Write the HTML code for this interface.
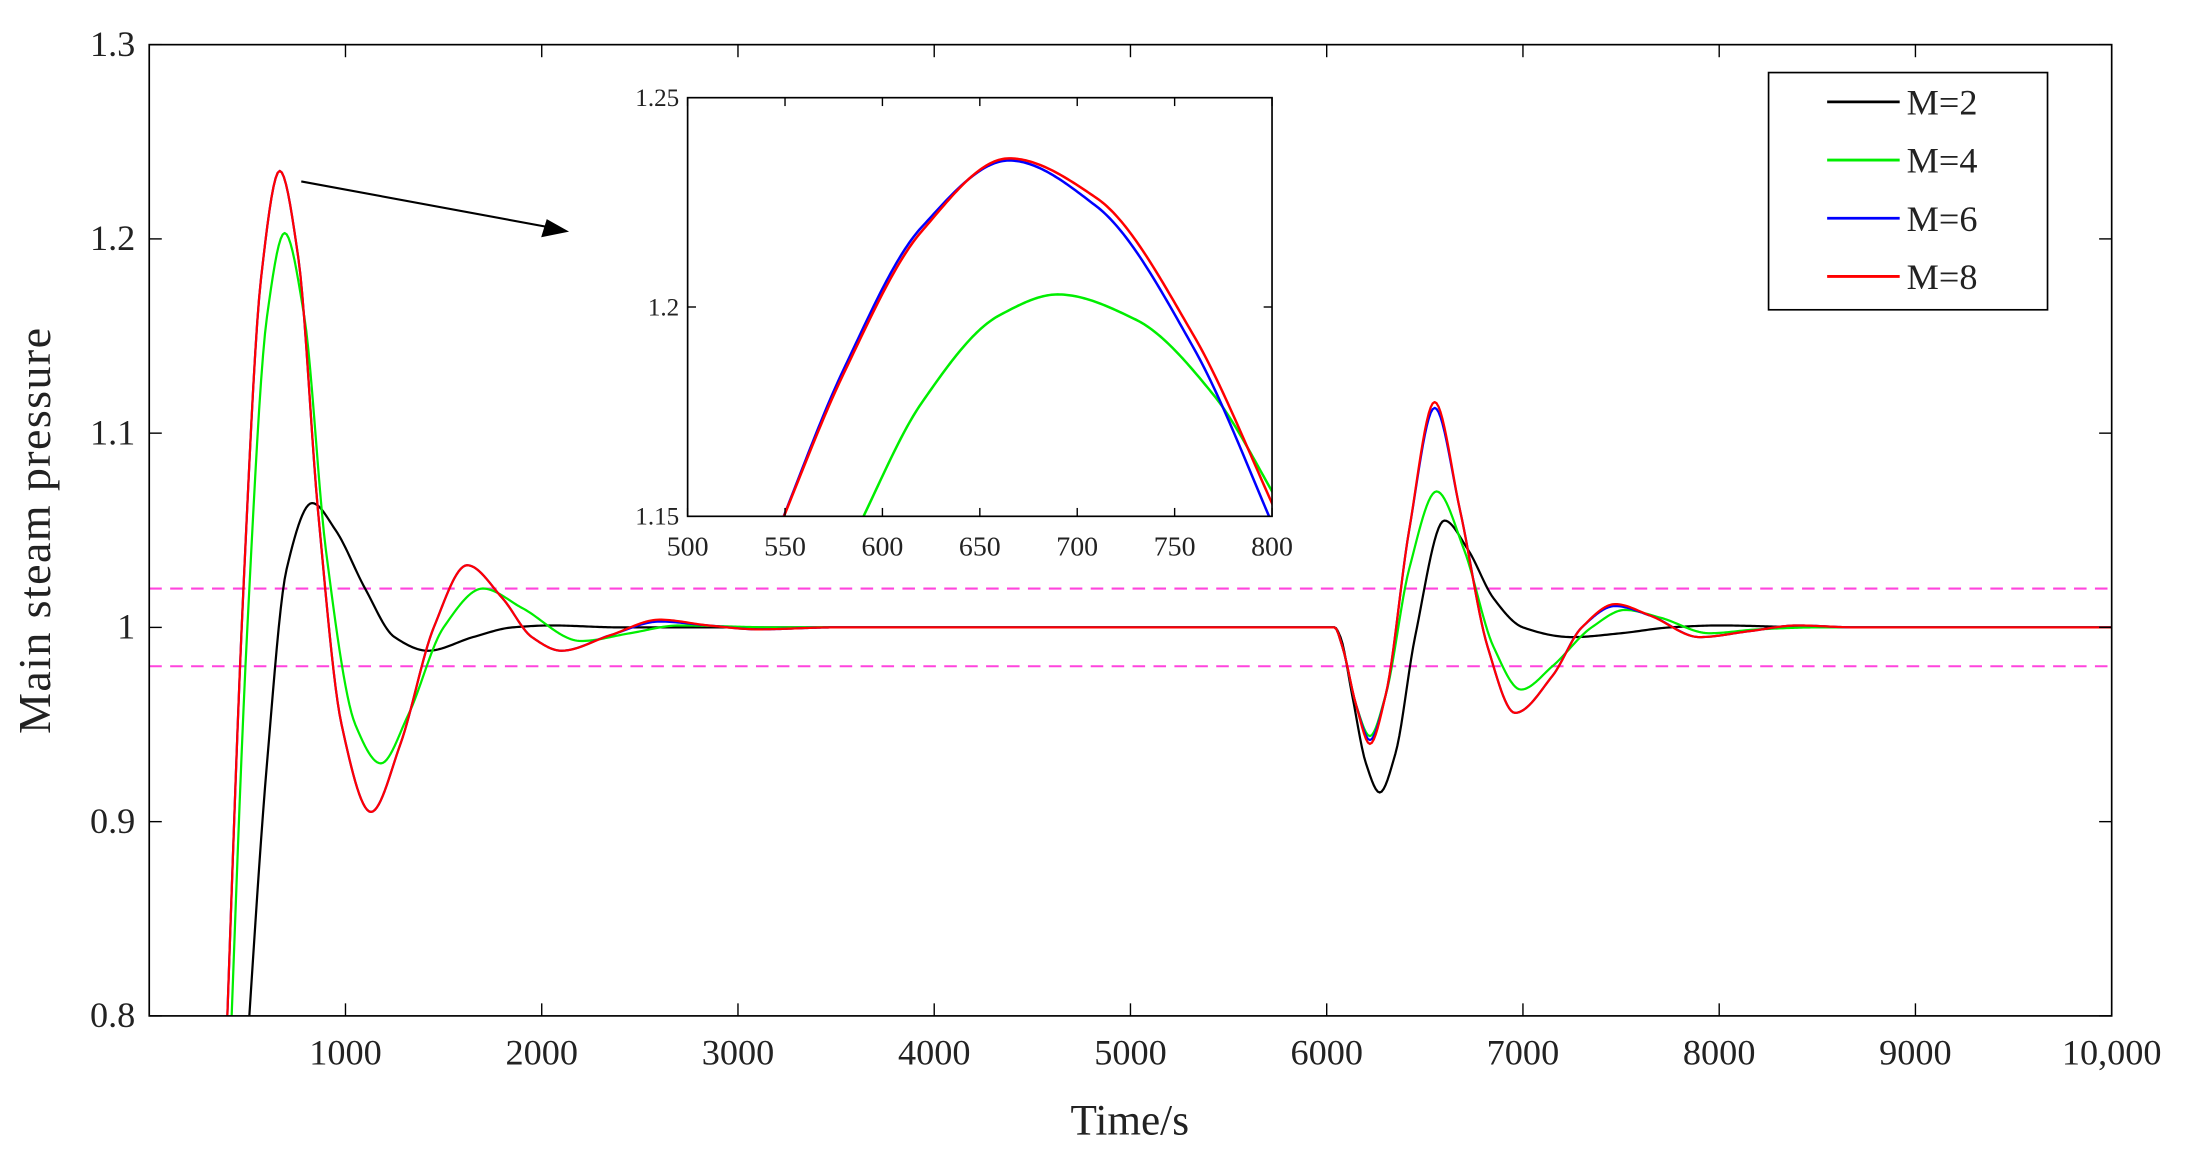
<!DOCTYPE html>
<html><head><meta charset="utf-8"><style>
html,body{margin:0;padding:0;background:#fff;overflow:hidden;width:2187px;height:1168px;}
svg{display:block;font-family:"Liberation Serif",serif;}
</style></head><body>
<svg id="chart" width="2187" height="1168" viewBox="0 0 1568 837" preserveAspectRatio="none" xmlns="http://www.w3.org/2000/svg">
<defs>
<clipPath id="mainclip"><rect x="107" y="32" width="1407" height="696"/></clipPath>
<clipPath id="insetclip"><rect x="493" y="70" width="419" height="300"/></clipPath>
</defs>
<g id="main"></g>
<g id="inset"></g>
<g id="legend"></g>
</svg>
<script>
const xTicks=[1000,2000,3000,4000,5000,6000,7000,8000,9000,10000];
const xTickLabels=["1000","2000","3000","4000","5000","6000","7000","8000","9000","10,000"];
const yTicks=[0.8,0.9,1.0,1.1,1.2,1.3];
const yTickLabels=["0.8","0.9","1","1.1","1.2","1.3"];
const bandValues=[1.02,0.98];
const seriesNames=["M=2","M=4","M=6","M=8"];
const seriesColors=["#000000","#00ee00","#0000ff","#ff0000"];
const m2T=[0,450,510,600,700,830,950,1100,1250,1420,1650,1850,2050,2400,2800,4000,5000,6040,6070,6130,6200,6270,6350,6450,6600,6720,6850,7000,7250,7500,7750,8000,8500,10000];
const m2V=[0.3,0.7,0.8,0.93,1.03,1.064,1.05,1.02,0.995,0.988,0.995,1.0,1.001,1.0,1.0,1.0,1.0,1.0,0.995,0.965,0.93,0.915,0.935,0.995,1.055,1.04,1.015,1.0,0.995,0.997,1.0,1.001,1.0,1.0];
const m4T=[0,380,420,500,600,690,790,900,1050,1180,1320,1500,1700,1900,2200,2450,2700,3200,4000,5000,6040,6080,6150,6220,6300,6420,6560,6700,6850,6990,7150,7350,7520,7700,7950,8200,8500,10000];
const m4V=[0.3,0.68,0.8,1.0,1.16,1.203,1.16,1.04,0.95,0.93,0.955,1.0,1.02,1.01,0.993,0.997,1.001,1.0,1.0,1.0,1.0,0.99,0.96,0.944,0.965,1.03,1.07,1.04,0.99,0.968,0.98,1.0,1.009,1.005,0.997,0.999,1.0,1.0];
const m6T=[0,350,398,480,570,665,760,860,980,1130,1280,1450,1620,1800,1950,2100,2350,2600,2850,3100,3500,4500,5500,6040,6080,6150,6220,6300,6420,6550,6680,6820,6960,7150,7300,7470,7650,7900,8150,8400,8700,10000];
const m6V=[0.3,0.65,0.8,1.02,1.18,1.235,1.19,1.06,0.95,0.905,0.94,1.0,1.032,1.015,0.995,0.988,0.996,1.003,1.001,0.999,1.0,1.0,1.0,1.0,0.99,0.96,0.942,0.965,1.05,1.113,1.06,0.99,0.956,0.975,1.0,1.011,1.006,0.995,0.998,1.001,1.0,1.0];
const m8V=[0.3,0.65,0.8,1.02,1.18,1.235,1.19,1.06,0.95,0.905,0.94,1.0,1.032,1.015,0.995,0.988,0.996,1.004,1.001,0.999,1.0,1.0,1.0,1.0,0.99,0.96,0.94,0.965,1.05,1.116,1.06,0.99,0.956,0.975,1.0,1.012,1.006,0.995,0.998,1.001,1.0,1.0];
const insetXTicks=[500,550,600,650,700,750,800];
const insetYTicks=[1.15,1.2,1.25];
const insetYTickLabels=["1.15","1.2","1.25"];
const in4T=[585,620,660,690,730,770,805];
const in4V=[1.145,1.177,1.198,1.203,1.197,1.179,1.152];
const in6T=[545,580,620,665,710,760,805];
const in6V=[1.145,1.185,1.219,1.235,1.224,1.19,1.143];
const in8T=[545,580,620,665,710,760,805];
const in8V=[1.145,1.184,1.218,1.2355,1.226,1.193,1.148];

const NS="http://www.w3.org/2000/svg";
function el(tag,attrs,parent){const e=document.createElementNS(NS,tag);for(const k in attrs)e.setAttribute(k,attrs[k]);parent.appendChild(e);return e;}
const X0=107,X1=1514,Y0=728,Y1=32;
const sx=t=>X0+(t-0)/10000*(X1-X0);
const sy=v=>Y0-(v-0.8)/0.5*(Y0-Y1);
const IX0=493,IX1=912,IY0=370,IY1=70;
const isx=t=>IX0+(t-500)/300*(IX1-IX0);
const isy=v=>IY0-(v-1.15)/0.1*(IY0-IY1);
// monotone cubic (Fritsch-Carlson) sampled densely
function smoothPath(T,V,fx,fy){
  const n=T.length,d=[],m=new Array(n);
  for(let i=0;i<n-1;i++)d.push((V[i+1]-V[i])/(T[i+1]-T[i]));
  m[0]=d[0];m[n-1]=d[n-2];
  for(let i=1;i<n-1;i++){
    if(d[i-1]*d[i]<=0)m[i]=0;
    else{const h0=T[i]-T[i-1],h1=T[i+1]-T[i];const w1=2*h1+h0,w2=h1+2*h0;m[i]=(w1+w2)/(w1/d[i-1]+w2/d[i]);}
  }
  let s="M"+fx(T[0]).toFixed(2)+","+fy(V[0]).toFixed(2);
  for(let i=0;i<n-1;i++){
    const h=T[i+1]-T[i];
    const steps=Math.max(4,Math.ceil((fx(T[i+1])-fx(T[i]))/1.5));
    for(let k=1;k<=steps;k++){
      const u=k/steps,u2=u*u,u3=u2*u;
      const v=(2*u3-3*u2+1)*V[i]+(u3-2*u2+u)*h*m[i]+(-2*u3+3*u2)*V[i+1]+(u3-u2)*h*m[i+1];
      s+=" L"+fx(T[i]+u*h).toFixed(2)+","+fy(v).toFixed(2);
    }
  }
  return s;
}
const main=document.getElementById('main');
bandValues.forEach((b,i)=>{
  const l=el('line',{x1:X0,x2:X1,y1:sy(b),y2:sy(b),stroke:'#ff44dd','stroke-width':1.5,'stroke-dasharray':'9,6'},main);
  
  
});
const mainSeries=[[m2T,m2V],[m4T,m4V],[m6T,m6V],[m6T,m8V]];
const gclip=el('g',{'clip-path':'url(#mainclip)'},main);
mainSeries.forEach((s,i)=>{
  const p=el('path',{d:smoothPath(s[0],s[1],sx,sy),fill:'none',stroke:seriesColors[i],'stroke-width':1.6,'stroke-linejoin':'round'},gclip);
  
  
});
const fr=el('rect',{x:X0,y:Y1,width:X1-X0,height:Y0-Y1,fill:'none',stroke:'#000','stroke-width':1.2},main);


xTicks.forEach((t,i)=>{
  el('line',{x1:sx(t),x2:sx(t),y1:Y0,y2:Y0-9,stroke:'#000','stroke-width':1},main);
  el('line',{x1:sx(t),x2:sx(t),y1:Y1,y2:Y1+9,stroke:'#000','stroke-width':1},main);
  const tx=el('text',{x:sx(t),y:Y0+35,'font-size':26,'text-anchor':'middle',fill:'#222'},main);
  tx.textContent=xTickLabels[i];
  
  
});
yTicks.forEach((v,i)=>{
  el('line',{x1:X0,x2:X0+9,y1:sy(v),y2:sy(v),stroke:'#000','stroke-width':1},main);
  el('line',{x1:X1,x2:X1-9,y1:sy(v),y2:sy(v),stroke:'#000','stroke-width':1},main);
  const tx=el('text',{x:X0-10,y:sy(v)+8,'font-size':26,'text-anchor':'end',fill:'#222'},main);
  tx.textContent=yTickLabels[i];
  
  
});
const xt=el('text',{x:810,y:813,'font-size':31,'text-anchor':'middle',fill:'#222'},main);
xt.textContent='Time/s';


const yt=el('text',{x:0,y:0,'font-size':33,'text-anchor':'middle',fill:'#222',transform:'translate(36,380) rotate(-90)','letter-spacing':'1'},main);
yt.textContent='Main steam pressure';


const ar=el('g',{},main);


el('line',{x1:216,y1:130,x2:400,y2:164,stroke:'#000','stroke-width':1.5},ar);
el('polygon',{points:'408,166 388,170 392,157',fill:'#000'},ar);
const inset=el('g',{},document.getElementById('inset'));
el('rect',{x:IX0,y:IY1,width:IX1-IX0,height:IY0-IY1,fill:'#fff',stroke:'none'},inset);
const ic=el('g',{'clip-path':'url(#insetclip)'},inset);
[[in4T,in4V,1],[in6T,in6V,2],[in8T,in8V,3]].forEach(s=>{
  const p=el('path',{d:smoothPath(s[0],s[1],isx,isy),fill:'none',stroke:seriesColors[s[2]],'stroke-width':1.8},ic);
  
  
});
el('rect',{x:IX0,y:IY1,width:IX1-IX0,height:IY0-IY1,fill:'none',stroke:'#000','stroke-width':1.2},inset);
insetXTicks.forEach(t=>{
  el('line',{x1:isx(t),x2:isx(t),y1:IY0,y2:IY0-6,stroke:'#000'},inset);
  el('line',{x1:isx(t),x2:isx(t),y1:IY1,y2:IY1+6,stroke:'#000'},inset);
  const tx=el('text',{x:isx(t),y:IY0+28,'font-size':20,'text-anchor':'middle',fill:'#222'},inset);
  tx.textContent=String(t);
  
  
});
insetYTicks.forEach((v,i)=>{
  el('line',{x1:IX0,x2:IX0+6,y1:isy(v),y2:isy(v),stroke:'#000'},inset);
  el('line',{x1:IX1,x2:IX1-6,y1:isy(v),y2:isy(v),stroke:'#000'},inset);
  const tx=el('text',{x:IX0-6,y:isy(v)+6,'font-size':18,'text-anchor':'end',fill:'#222'},inset);
  tx.textContent=insetYTickLabels[i];
  
  
});
const lg=document.getElementById('legend');
el('rect',{x:1268,y:52,width:200,height:170,fill:'#fff',stroke:'#000','stroke-width':1.2},lg);
seriesNames.forEach((n,i)=>{
  const y=73+i*41.7;
  const g=el('g',{},lg);
  
  
  el('line',{x1:1310,x2:1362,y1:y,y2:y,stroke:seriesColors[i],'stroke-width':2},g);
  const tx=el('text',{x:1367,y:y+9,'font-size':26,fill:'#222'},g);
  tx.textContent=n;
});
</script>
</body></html>
